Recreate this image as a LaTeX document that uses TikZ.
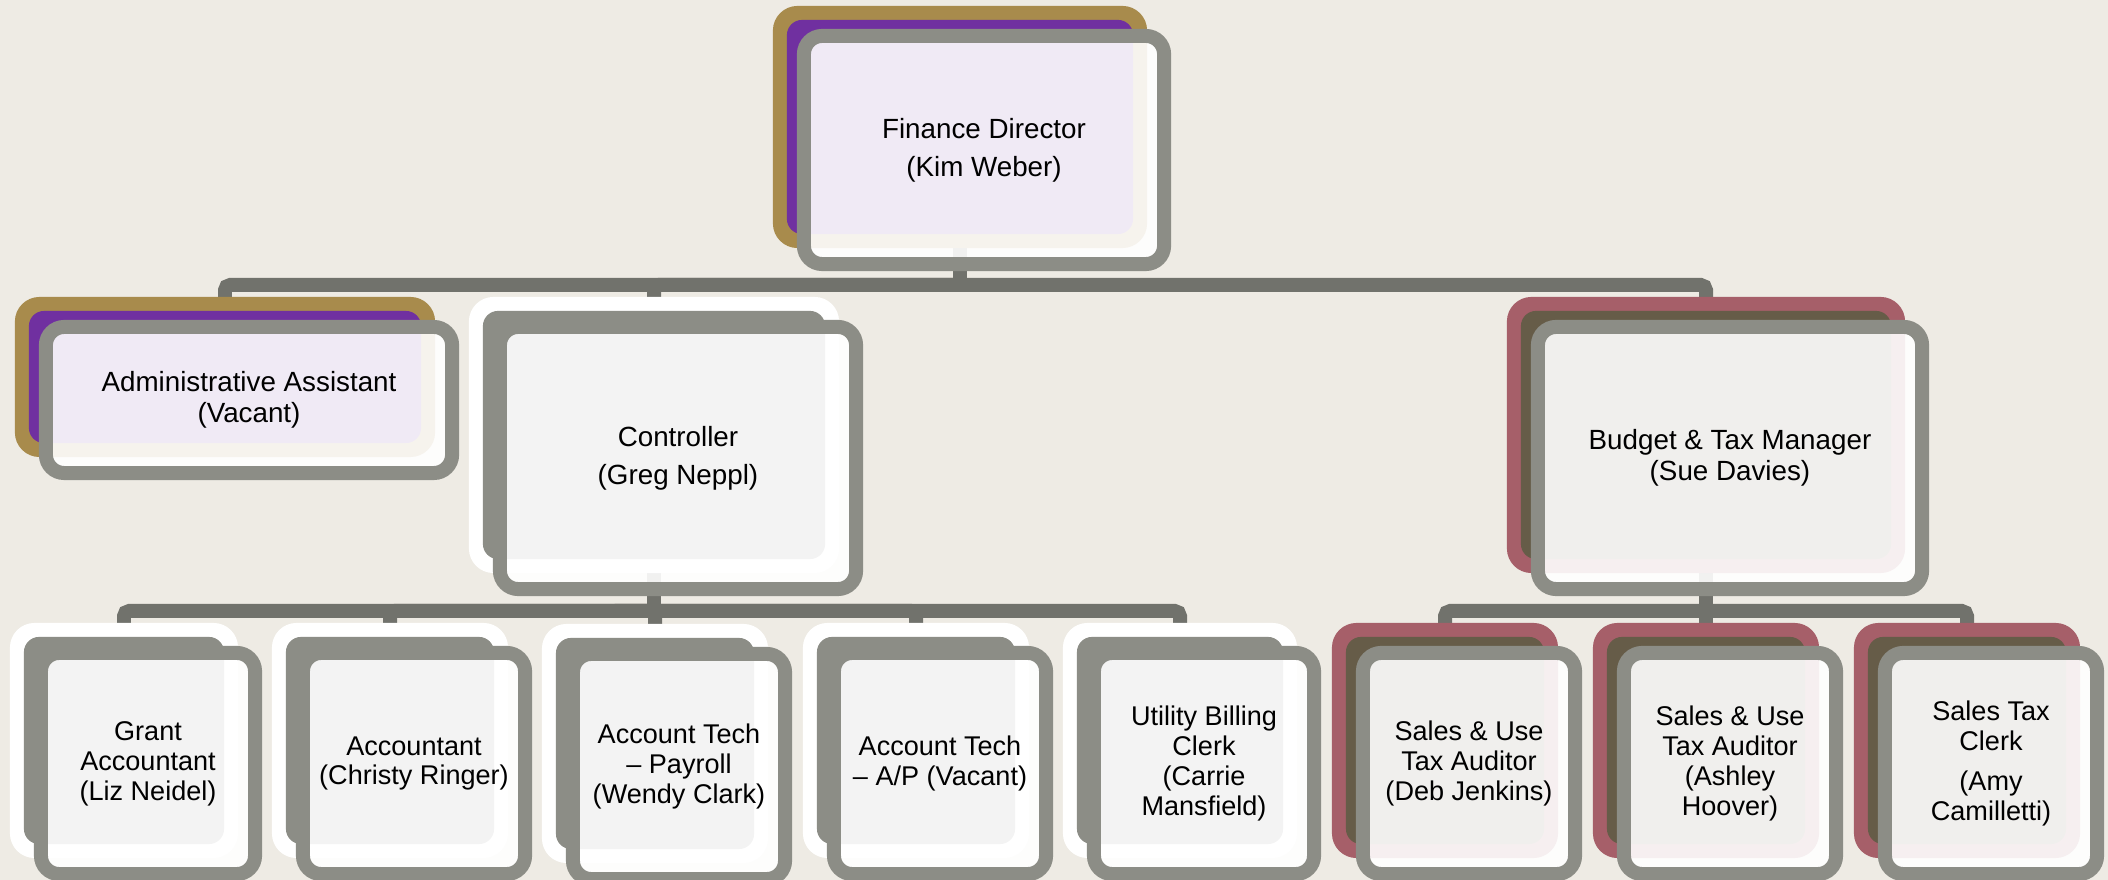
\documentclass[tikz,border=0pt]{standalone}
\usepackage{fontspec}
\setmainfont{Liberation Sans}
\pgfdeclarelayer{backlayer}
\pgfdeclarelayer{connlayer}
\pgfsetlayers{backlayer,connlayer,main}
\definecolor{bgc}{HTML}{EEEBE4}
\definecolor{goldc}{HTML}{A88B4C}
\definecolor{purc}{HTML}{7030A0}
\definecolor{rosec}{HTML}{A65F69}
\definecolor{brownc}{HTML}{665C48}
\definecolor{framec}{HTML}{8C8D86}
\definecolor{connc}{HTML}{71726C}
\tikzset{
  backrect/.style={rectangle, rounded corners=7pt, inner sep=0pt, outer sep=0pt},
  innerrect/.style={rectangle, rounded corners=4.3pt, inner sep=0pt, outer sep=0pt},
  frontrect/.style={rectangle, rounded corners=5.2pt, inner sep=0pt, outer sep=0pt,
    draw=framec, line width=3.98pt, fill=white, fill opacity=0.9, text opacity=1,
    align=center, text=black},
  bigtext/.style={font=\fontsize{7.9pt}{8.8pt}\selectfont},
  smalltext/.style={font=\fontsize{7.7pt}{8.5pt}\selectfont},
  conn/.style={draw=connc, line width=3.98pt, rounded corners=1.5pt},
}
% name, cx, cy, w, h, accent, inner colour, text style, text
\newcommand{\orgbox}[9]{%
  \node[backrect, fill=#6, minimum width={#4*0.284528pt}, minimum height={#5*0.284528pt}] (#1) at (#2,#3) {};
  \node[innerrect, fill=#7, minimum width={(#4-28)*0.284528pt}, minimum height={(#5-28)*0.284528pt}] (#1-in) at (#2,#3) {};
  \node[frontrect, #8, minimum width={(#4-14)*0.284528pt}, minimum height={(#5-14)*0.284528pt}] (#1-f) at ({#2+24},{#3+23}) {#9};
}
\begin{document}
\begin{tikzpicture}[x=0.01cm, y=-0.01cm]
\useasboundingbox (0,0) rectangle (2108,880);
\begin{pgfonlayer}{backlayer}
  \fill[bgc] (0,0) rectangle (2108,880);
\end{pgfonlayer}
\clip (0,0) rectangle (2108,880);

% top level
\orgbox{fd}{960}{127}{374}{242}{goldc}{purc}{bigtext}{Finance Director\\[2pt](Kim Weber)}
% second level
\orgbox{aa}{225}{377}{420}{160}{goldc}{purc}{bigtext}{Administrative Assistant\\(Vacant)}
\orgbox{ctl}{654}{435}{370}{276}{white}{framec}{bigtext}{Controller\\[2pt](Greg Neppl)}
\orgbox{btm}{1706}{435}{398}{276}{rosec}{brownc}{bigtext}{Budget \& Tax Manager\\(Sue Davies)}
% third level, controller
\orgbox{ga}{124}{740.5}{228}{235}{white}{framec}{smalltext}{Grant\\Accountant\\(Liz Neidel)}
\orgbox{acc}{390}{740.5}{236}{235}{white}{framec}{smalltext}{Accountant\\(Christy Ringer)}
\orgbox{atp}{655}{743.5}{226}{239}{white}{framec}{smalltext}{Account Tech\\\textendash{} Payroll\\(Wendy Clark)}
\orgbox{atap}{916}{740.5}{226}{235}{white}{framec}{smalltext}{Account Tech\\\textendash{} A/P (Vacant)}
\orgbox{ubc}{1180}{740.5}{234}{235}{white}{framec}{smalltext}{Utility Billing\\Clerk\\(Carrie\\Mansfield)}
% third level, budget
\orgbox{sut1}{1445}{740.5}{226}{235}{rosec}{brownc}{smalltext}{Sales \& Use\\Tax Auditor\\(Deb Jenkins)}
\orgbox{sut2}{1706}{740.5}{226}{235}{rosec}{brownc}{smalltext}{Sales \& Use\\Tax Auditor\\(Ashley\\Hoover)}
\orgbox{stc}{1967}{740.5}{226}{235}{rosec}{brownc}{smalltext}{Sales Tax\\Clerk\\[3pt](Amy\\Camilletti)}

\begin{pgfonlayer}{connlayer}
  \coordinate (b1) at (960,285);
  \draw[conn] (fd.south) -- (b1);
  \draw[conn] (b1) -| (aa.north);
  \draw[conn] (b1) -| (ctl.north);
  \draw[conn] (b1) -| (btm.north);
  \coordinate (b2) at (654,611);
  \draw[conn] (ctl.south) -- (b2);
  \draw[conn] (b2) -| (atp.north);
  \draw[conn] (b2) -| (ga.north);
  \draw[conn] (b2) -| (acc.north);
  \draw[conn] (b2) -| (atap.north);
  \draw[conn] (b2) -| (ubc.north);
  \coordinate (b3) at (1706,611);
  \draw[conn] (btm.south) -- (sut2.north);
  \draw[conn] (b3) -| (sut1.north);
  \draw[conn] (b3) -| (stc.north);
\end{pgfonlayer}
\end{tikzpicture}
\end{document}
